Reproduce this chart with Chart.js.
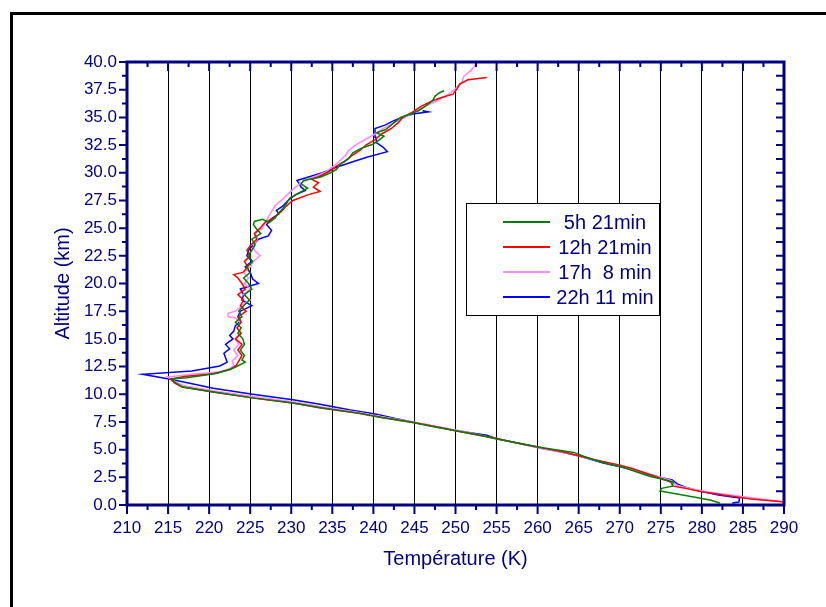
<!DOCTYPE html>
<html>
<head>
<meta charset="utf-8">
<script src="https://cdn.jsdelivr.net/npm/chart.js@4/dist/chart.umd.min.js"></script>
<style>
  body { margin: 0; background: #fff; overflow: hidden; }
  #wrap { position: relative; width: 826px; height: 607px; }
  #cadre { position: absolute; left: 10px; top: 12px; width: 900px; height: 700px; border: 3px solid #000; pointer-events: none; }
</style>
</head>
<body>
<div id="wrap">
  <canvas id="profil" width="826" height="607"></canvas>
  <div id="cadre"></div>
</div>
<script>
// series labels
const etiquettes = ['5h 21min', '12h 21min', '17h  8 min', '22h 11 min']
const couleurs = ['#008000', '#ff0000', '#ff88ff', '#0000ff']

// 5h 21min
const alt_5h21 = [0.18,0.45,0.85,1.26,1.5,1.7,2.07,2.35,2.6,3.0,3.4,3.7,4.0,4.4,4.75,5.15,5.5,5.95,6.3,6.7,7.1,7.45,7.9,8.25,8.75,9.2,9.65,10.2,10.65,11.1,11.4,11.5,11.9,12.35,12.9,13.1,13.5,14.0,14.5,15.0,15.5,16.0,16.5,17.0,17.5,18.0,18.5,19.0,19.5,20.0,20.5,21.0,21.5,22.0,22.5,23.0,23.5,24.0,24.5,24.9,25.3,25.6,25.8,25.5,25.9,26.3,26.8,27.3,27.7,28.2,28.6,29.0,29.3,29.6,30.0,30.3,30.8,31.3,31.8,32.2,32.6,32.9,33.3,33.6,33.9,34.5,35.0,35.3,35.6,36.0,36.5,36.9,37.2,37.4]
const temp_5h21 = [282.2,281.0,278.0,274.9,275.1,276.4,276.5,275.1,273.6,272.0,270.4,268.6,267.2,265.6,264.4,260.8,258.2,255.0,253.0,250.0,247.0,244.8,241.0,238.5,233.8,230.2,225.5,220.5,216.8,215.8,215.4,217.3,221.0,222.9,224.4,224.0,224.3,223.8,224.3,224.1,223.5,223.9,223.2,224.0,223.6,224.2,224.9,224.3,225.2,224.8,224.2,225.0,224.6,225.3,224.7,225.2,225.6,225.2,226.3,225.8,225.4,225.5,226.5,227.3,228.0,228.4,229.0,229.5,229.8,231.0,232.0,231.2,231.5,233.5,234.8,235.5,236.0,237.0,237.5,238.5,240.0,240.6,241.3,240.4,241.5,242.5,243.3,244.5,245.5,246.3,247.2,247.5,248.0,248.6]

// 12h 21min
const alt_12h21 = [0.27,0.55,0.85,1.2,1.5,1.7,2.08,2.4,2.8,3.3,3.6,4.0,4.4,4.8,5.2,5.6,6.0,6.35,6.7,7.1,7.5,7.9,8.3,8.75,9.2,9.65,10.2,10.65,11.0,11.35,11.6,11.85,12.2,12.6,13.0,13.5,14.0,14.5,15.0,15.5,16.0,16.5,17.0,17.5,18.0,18.5,19.0,19.5,20.0,20.5,20.8,21.0,21.5,22.0,22.5,23.0,23.5,24.0,24.5,25.0,25.5,26.0,26.5,27.0,27.5,28.0,28.3,28.7,29.1,29.4,29.8,30.2,30.6,31.0,31.5,32.0,32.5,33.0,33.5,34.0,34.5,35.0,35.5,36.0,36.5,36.8,37.1,37.6,38.0,38.4,38.6]
const temp_12h21 = [290.1,286.0,283.0,280.0,278.0,276.5,276.2,275.0,273.5,271.5,270.0,267.5,265.2,263.0,260.3,257.5,255.0,252.5,250.0,247.5,244.5,241.0,238.0,233.6,230.2,225.4,220.5,216.7,215.8,215.3,217.0,220.5,222.5,223.3,223.6,224.0,223.5,224.0,223.2,223.9,223.4,223.9,223.6,224.5,223.8,224.2,223.5,224.4,224.0,223.5,223.0,224.1,224.7,224.3,225.0,224.6,225.1,225.8,225.5,226.2,226.8,228.0,228.8,229.4,230.2,232.0,233.5,232.7,233.3,232.5,233.8,234.8,235.5,236.5,237.3,238.3,239.1,240.2,241.0,242.2,243.0,243.6,244.8,245.8,247.2,248.3,249.7,250.2,250.5,251.5,253.8]

// 17h 8 min
const alt_17h08 = [0.3,0.6,0.9,1.2,1.5,1.8,2.2,2.5,2.9,3.3,3.8,4.2,4.6,5.1,5.5,5.95,6.4,6.75,7.1,7.5,7.95,8.35,8.85,9.3,9.8,10.3,10.75,11.1,11.55,11.8,12.0,12.3,12.6,13.0,13.5,14.0,14.5,15.0,15.5,16.0,16.5,16.9,17.0,17.3,17.5,18.0,18.5,19.0,19.5,20.0,20.5,21.0,21.5,22.0,22.5,23.0,23.5,24.0,24.5,25.0,25.5,26.0,26.5,27.0,27.5,28.0,28.5,29.0,29.5,30.0,30.5,31.0,31.5,32.0,32.5,33.0,33.5,34.0,34.5,35.0,35.6,36.0,36.5,37.0,37.6,38.2,38.7,39.2,39.6,40.0]
const temp_17h08 = [290.0,286.5,283.5,280.5,278.5,276.8,276.3,275.0,273.0,271.0,268.5,266.3,264.0,260.5,258.0,255.2,252.5,250.2,247.5,244.8,241.2,238.2,233.8,230.3,225.3,220.6,217.0,216.0,214.9,218.0,221.0,222.5,223.0,222.8,223.5,223.0,223.6,223.2,223.8,223.4,223.8,223.2,222.4,222.3,223.2,224.0,225.0,224.2,225.0,224.3,224.8,224.2,225.0,225.4,226.2,225.5,225.4,225.9,225.6,226.5,226.8,227.2,227.6,228.0,228.8,229.5,230.2,231.0,232.3,234.0,235.0,235.8,236.5,237.0,237.8,239.0,240.2,241.2,242.5,243.8,245.3,246.3,247.8,249.0,250.0,250.8,251.0,251.8,252.3,252.6]

// 22h 11 min
const alt_22h11 = [0.18,0.27,0.63,0.9,1.3,1.6,1.9,2.26,2.44,2.8,3.1,3.4,3.8,4.4,4.8,5.15,5.55,5.95,6.3,6.7,7.05,7.4,7.8,8.2,8.58,9.1,9.5,10.0,10.55,11.3,11.8,12.1,12.55,12.9,13.3,13.7,14.1,14.5,15.0,15.3,15.7,16.2,16.6,17.0,17.5,18.0,18.5,19.0,19.5,20.0,20.4,21.0,21.5,22.0,22.5,23.0,23.5,24.0,24.3,24.8,25.3,25.8,26.3,26.6,27.0,27.5,28.0,28.4,28.7,29.0,29.3,29.7,30.0,30.5,31.0,31.4,31.9,32.3,32.7,33.2,33.6,34.0,34.3,34.7,35.0,35.3,35.5,35.6]
const temp_22h11 = [283.7,284.5,284.6,282.0,279.5,278.0,277.0,276.4,275.3,273.3,272.0,270.3,268.0,265.2,262.8,260.3,257.8,255.2,253.8,250.2,247.8,245.3,242.8,240.4,237.2,233.5,230.2,225.3,220.5,215.6,211.9,217.9,221.3,222.2,222.0,221.8,222.5,222.0,222.9,222.5,223.0,223.2,223.8,223.5,223.8,225.2,224.0,224.2,223.8,226.0,225.3,225.0,224.4,225.2,224.6,224.8,225.4,226.0,227.2,227.6,227.0,227.5,228.5,228.2,229.0,229.6,230.5,231.7,231.2,231.0,230.7,232.5,233.8,235.5,237.5,239.2,241.7,241.2,240.4,240.3,240.2,240.2,241.4,242.5,243.5,244.8,246.7,246.0]

const altitudes = [alt_5h21, alt_12h21, alt_17h08, alt_22h11]
const temperatures = [temp_5h21, temp_12h21, temp_17h08, temp_22h11]

const bleuAxe = '#000080'
const police = '"Liberation Sans", Arial, sans-serif'

// axes cadre + graduations (dedans en haut/droite, dehors en bas/gauche)
const cadreAxes = {
    id: 'cadreAxes',
    afterDatasetsDraw(chart) {
        const {ctx, chartArea: a, scales: {x, y}} = chart
        ctx.save()
        ctx.strokeStyle = bleuAxe
        ctx.lineWidth = 2
        ctx.beginPath()
        for (let v = 210; v <= 290; v += 2.5) {
            const px = x.getPixelForValue(v)
            const len = v % 5 === 0 ? 9 : 5
            ctx.moveTo(px, a.bottom); ctx.lineTo(px, a.bottom + len)
            ctx.moveTo(px, a.top); ctx.lineTo(px, a.top + len)
        }
        for (let v = 0; v <= 40; v += 1.25) {
            const py = y.getPixelForValue(v)
            const len = v % 2.5 === 0 ? 8 : 5
            ctx.moveTo(a.left - len, py); ctx.lineTo(a.left, py)
            ctx.moveTo(a.right - 8, py); ctx.lineTo(a.right, py)
        }
        ctx.stroke()
        ctx.lineWidth = 3
        ctx.strokeRect(a.left, a.top, a.right - a.left, a.bottom - a.top)
        ctx.restore()
    }
}

// legende encadree dans le graphique
const legendeBoite = {
    id: 'legendeBoite',
    afterDraw(chart) {
        const ctx = chart.ctx
        ctx.save()
        ctx.fillStyle = '#fff'
        ctx.fillRect(466, 203, 193, 112)
        ctx.strokeStyle = '#000'
        ctx.lineWidth = 1
        ctx.strokeRect(466.5, 203.5, 193, 112)
        ctx.font = '20px ' + police
        ctx.textAlign = 'center'
        ctx.textBaseline = 'middle'
        chart.data.datasets.forEach((ds, i) => {
            const yy = 222 + i * 25
            ctx.strokeStyle = ds.borderColor
            ctx.lineWidth = 2
            ctx.beginPath(); ctx.moveTo(503, yy); ctx.lineTo(550, yy); ctx.stroke()
            ctx.fillStyle = bleuAxe
            ctx.fillText(ds.label, 605, yy + 1)
        })
        ctx.restore()
    }
}

const profil = document.getElementById('profil').getContext('2d')

new Chart(profil, {
    type: 'scatter',
    data: {
        datasets: etiquettes.map((lab, i) => ({
            label: lab,
            data: altitudes[i].map((h, k) => ({x: temperatures[i][k], y: h})),
            showLine: true,
            borderColor: couleurs[i],
            backgroundColor: couleurs[i],
            borderWidth: 1.5,
            pointRadius: 0,
            fill: false
        }))
    },
    options: {
        responsive: false,
        animation: false,
        layout: { padding: { left: 0, top: 62, right: 42, bottom: 0 } },
        scales: {
            x: {
                type: 'linear',
                min: 210,
                max: 290,
                afterFit: s => { s.height = 102 },
                grid: { color: '#000', lineWidth: 1, drawTicks: false },
                border: { display: false },
                ticks: { stepSize: 5, autoSkip: false, maxRotation: 0, padding: 13, color: bleuAxe, font: { family: police, size: 17 } },
                title: { display: true, text: 'Température (K)', color: bleuAxe, font: { family: police, size: 20 }, padding: { bottom: 36 } }
            },
            y: {
                min: 0,
                max: 40,
                afterFit: s => { s.width = 127 },
                grid: { display: false, drawTicks: false },
                border: { display: false },
                ticks: { stepSize: 2.5, padding: 10, color: bleuAxe, font: { family: police, size: 17 }, callback: v => v.toFixed(1) },
                title: { display: true, text: 'Altitude (km)', color: bleuAxe, font: { family: police, size: 20 }, padding: { top: 51 } }
            }
        },
        plugins: {
            legend: { display: false },
            tooltip: { enabled: false }
        }
    },
    plugins: [cadreAxes, legendeBoite]
});
</script>
</body>
</html>
